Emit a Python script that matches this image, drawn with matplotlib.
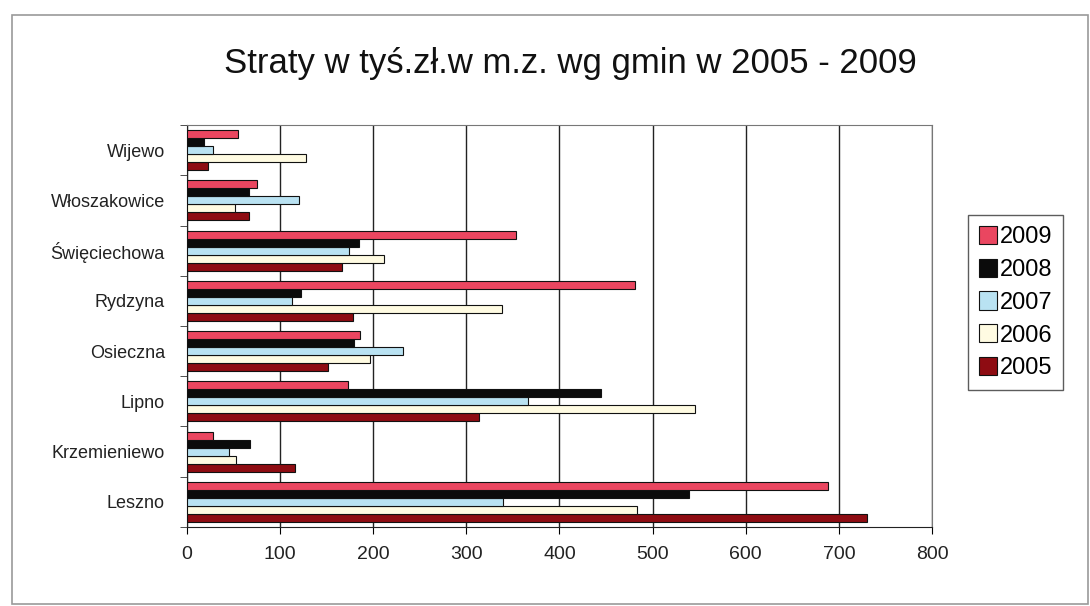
import matplotlib.pyplot as plt
import matplotlib.patches as mpatches
import numpy as np

plt.rcParams['font.family'] = ['Liberation Sans', 'DejaVu Sans']

# gminy, od dołu wykresu
gminy = ["Leszno", "Krzemieniewo", "Lipno", "Osieczna", "Rydzyna",
         "Święciechowa", "Włoszakowice", "Wijewo"]
lata = ["2005", "2006", "2007", "2008", "2009"]

# straty w tys. zł
s2005 = [730, 116, 314, 151, 178, 166, 67, 22]
s2006 = [483, 53, 546, 197, 338, 211, 52, 128]
s2007 = [339, 45, 366, 232, 113, 174, 120, 28]
s2008 = [539, 68, 445, 179, 122, 185, 67, 18]
s2009 = [688, 28, 173, 186, 481, 353, 75, 55]
serie = [s2005, s2006, s2007, s2008, s2009]

kolory = ["#8e0c12", "#fffbe2", "#b9e2f2", "#0b0b0b", "#ea4660"]

fig = plt.figure(figsize=(10.9, 6.06), dpi=100)
fig.patches.append(mpatches.Rectangle((0.011, 0.003), 0.987, 0.972, transform=fig.transFigure,
                                      fill=False, edgecolor="#9a9a9a", linewidth=1.2))
ax = fig.add_axes([0.1716, 0.1304, 0.6834, 0.6633])

y = np.arange(len(gminy))
h = 0.16
for i, (vals, kol) in enumerate(zip(serie, kolory)):
    ax.barh(y + (i - 2) * h, vals, height=h, color=kol, edgecolor="#111111",
            linewidth=0.8, label=lata[i], zorder=3)

ax.set_xlim(0, 800)
ax.set_ylim(-0.5, len(gminy) - 0.5)
ax.set_xticks(range(0, 801, 100))
ax.xaxis.grid(True, color="#222222", linewidth=1.0, zorder=0)
ax.set_yticks(y)
ax.set_yticklabels(gminy)
ax.set_yticks(np.arange(-0.5, len(gminy), 1), minor=True)
ax.tick_params(axis="y", which="major", length=0, pad=16, labelsize=13, labelcolor="#222222")
ax.tick_params(axis="y", which="minor", length=5, direction="out", color="#333333")
ax.tick_params(axis="x", length=5, direction="out", pad=9, labelsize=14, labelcolor="#222222")
for sp in ax.spines.values():
    sp.set_color("#777777")
ax.spines["left"].set_color("#222222")
ax.spines["bottom"].set_color("#222222")

fig.text(0.523, 0.895, "Straty w tyś.zł.w m.z. wg gmin w 2005 - 2009",
         ha="center", va="center", fontsize=25, color="#111111")

handles, labels = ax.get_legend_handles_labels()
leg = fig.legend(handles[::-1], labels[::-1], loc="upper left",
                 bbox_to_anchor=(0.888, 0.645), fontsize=17, frameon=True,
                 fancybox=False, edgecolor="#333333", handlelength=0.8,
                 handleheight=0.8, handletextpad=0.1, labelspacing=0.45,
                 borderpad=0.45, borderaxespad=0)
leg.get_frame().set_linewidth(1.0)

fig.savefig("out.png", dpi=100)
